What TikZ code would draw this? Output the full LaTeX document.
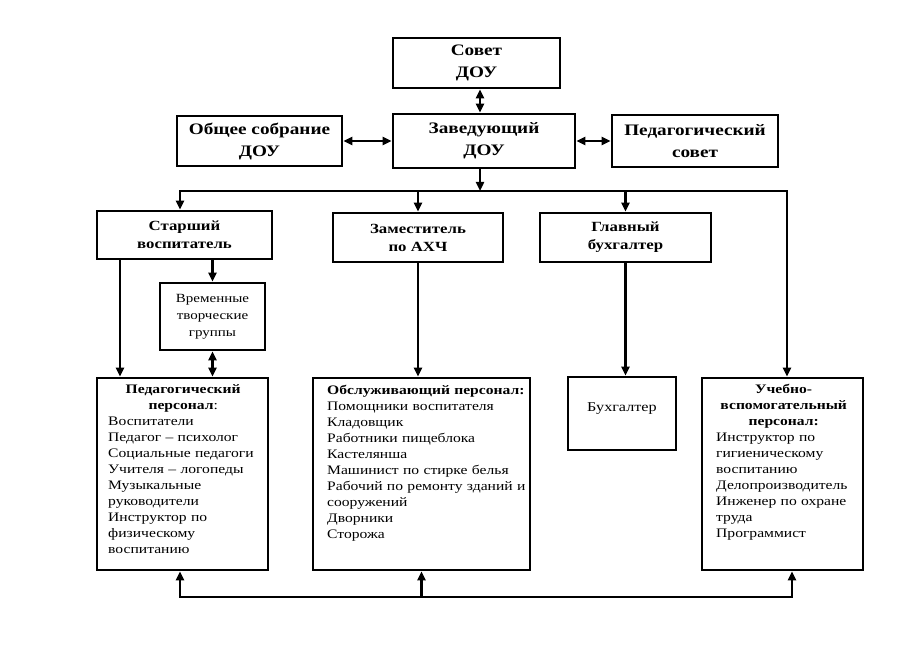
\documentclass[tikz,border=0pt]{standalone}
\usepackage{fontspec}
\setmainfont{Liberation Serif}[FakeStretch=1.2]
\usetikzlibrary{arrows.meta}
\begin{document}
\begin{tikzpicture}[x=1pt,y=-1pt,
  box/.style={draw=black, line width=2.6pt, inner sep=0pt, align=center, fill=white},
  tip/.tip={Triangle[length=9pt,width=8pt]},
  conn/.style={line width=2.4pt, -tip},
  dconn/.style={line width=2.4pt, tip-tip},
  hA/.style={font=\fontsize{16}{22}\selectfont\bfseries},
  hB/.style={font=\fontsize{14}{18}\selectfont\bfseries},
  txt/.style={font=\fontsize{13}{16}\selectfont, inner sep=0pt, align=left, anchor=north west},
]
\useasboundingbox[fill=white] (0,0) rectangle (923,652);

% top level
\node[box, hA, minimum width=167pt, minimum height=50pt] (sovet) at (476.5,63) {Совет\\ДОУ};
\node[box, hA, minimum width=165pt, minimum height=50pt] (obsh) at (259.5,141) {Общее собрание\\ДОУ};
\node[box, hA, minimum width=182pt, minimum height=54pt] (zav) at (484,141) {Заведующий\\ДОУ};
\node[box, hA, minimum width=166pt, minimum height=52pt] (pedsov) at (695,141) {Педагогический\\совет};

% second level
\node[box, hB, minimum width=175pt, minimum height=48pt] (star) at (184.5,235) {Старший\\воспитатель};
\node[box, hB, minimum width=170pt, minimum height=49pt] (zam) at (418,237.5) {Заместитель\\по АХЧ};
\node[box, hB, minimum width=171pt, minimum height=49pt] (glav) at (625.5,237.5) {Главный\\бухгалтер};
\node[box, font=\fontsize{12.5}{17}\selectfont, minimum width=105pt, minimum height=67pt] (vrem) at (212.5,316.5) {Временные\\творческие\\группы};

% third level boxes
\node[box, minimum width=171pt, minimum height=192pt] (pp) at (182.5,474) {};
\node[box, minimum width=217pt, minimum height=192pt] (op) at (421.5,474) {};
\node[box, minimum width=108pt, minimum height=73pt] (buh) at (622,413.5) {};
\node[box, minimum width=161pt, minimum height=192pt] (uv) at (782.5,474) {};

\node[font=\fontsize{13.5}{16}\selectfont, inner sep=0pt] (buht) at (622,409) {Бухгалтер};

\node[txt, text width=150pt] (ppt) at (108,384) {%
{\centering\bfseries Педагогический\\персонал\mdseries:\par}
Воспитатели\\
Педагог – психолог\\
Социальные педагоги\\
Учителя – логопеды\\
Музыкальные\\
руководители\\
Инструктор по\\
физическому\\
воспитанию};

\node[txt, text width=200pt] (opt) at (327,385) {%
\textbf{Обслуживающий персонал:}\\
Помощники воспитателя\\
Кладовщик\\
Работники пищеблока\\
Кастелянша\\
Машинист по стирке белья\\
Рабочий по ремонту зданий и\\
сооружений\\
Дворники\\
Сторожа};

\node[txt, text width=135pt] (uvt) at (716,384) {%
{\centering\bfseries Учебно-\\вспомогательный\\персонал:\par}
Инструктор по\\
гигиеническому\\
воспитанию\\
Делопроизводитель\\
Инженер по охране\\
труда\\
Программист};

% connectors top
\coordinate (xM) at (480,0);
\draw[dconn] (sovet.south -| xM) -- (zav.north -| xM);
\draw[dconn] (obsh.east) -- (obsh.east -| zav.west);
\draw[dconn] (zav.east) -- (zav.east -| pedsov.west);

\coordinate (ybus) at (0,191);
\coordinate (bus) at (480,191);
\coordinate (busL) at (180,191);
\coordinate (busR) at (787,191);
\draw[conn] (zav.south -| bus) -- (bus);
\draw[conn] (bus) -| (busL |- star.north);
\draw[conn] (bus) -| (busR |- uv.north);
\draw[conn] (zam.north |- ybus) -- (zam.north);
\draw[conn] (glav.north |- ybus) -- (glav.north);

% second level down
\coordinate (xL) at (120,0);
\draw[conn] (star.south -| xL) -- (pp.north -| xL);
\draw[conn] (star.south -| vrem.north) -- (vrem.north);
\draw[dconn] (vrem.south) -- (vrem.south |- pp.north);
\draw[conn] (zam.south) -- (zam.south |- op.north);
\draw[conn] (glav.south) -- (glav.south |- buh.north);

% bottom bus
\coordinate (ybot) at (0,597);
\coordinate (bbM) at (op.south |- ybot);
\coordinate (bbL) at (180,597);
\coordinate (bbR) at (792,597);
\draw[conn] (bbM) -| (bbL |- pp.south);
\draw[conn] (bbM) -| (bbR |- uv.south);
\draw[conn] (bbM) -- (op.south);
\end{tikzpicture}
\end{document}
